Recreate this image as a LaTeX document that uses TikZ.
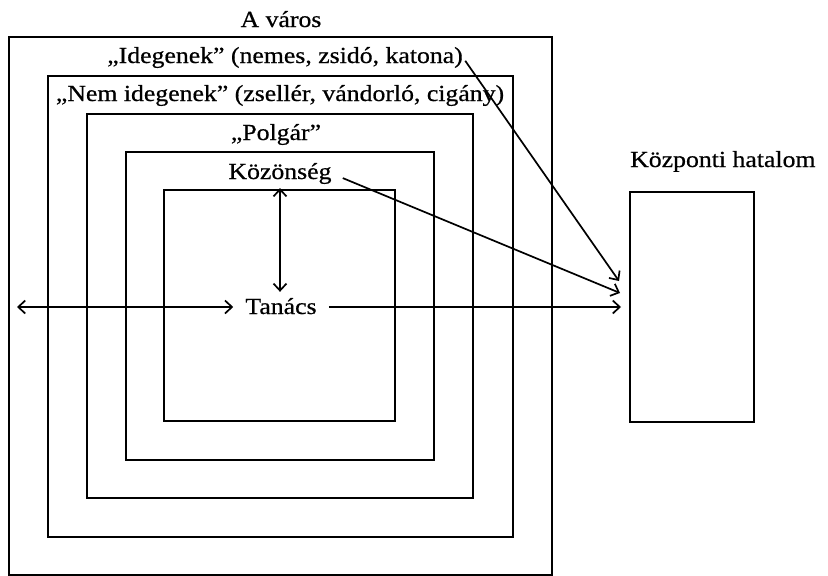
\documentclass[tikz,border=0pt]{standalone}
\usepackage{fontspec}
\setmainfont[FakeStretch=1.12,FakeBold=0.6]{Liberation Serif}
\usetikzlibrary{arrows.meta}
\begin{document}
\begin{tikzpicture}[x=1pt,y=-1pt,
  box/.style={draw=black,line width=1.9pt},
  lbl/.style={inner sep=0pt,anchor=base,font=\fontsize{23}{27}\selectfont},
  tip/.style={Straight Barb[length=7pt,width=13pt,line width=1.7pt]},
  conn/.style={line width=1.7pt,-{Straight Barb[length=7pt,width=13pt,line width=1.7pt]}},
  dconn/.style={line width=1.7pt,{Straight Barb[length=7pt,width=13pt,line width=1.7pt]}-{Straight Barb[length=7pt,width=13pt,line width=1.7pt]}}]
\useasboundingbox (0,0) rectangle (828,576);
\fill[white] (0,0) rectangle (828,576);

% nested circles of the town
\draw[box] (9,37) rectangle (552,575);
\draw[box] (48,76) rectangle (513,537);
\draw[box] (87,114) rectangle (473,498);
\draw[box] (126,152) rectangle (434,460);
\draw[box] (164,190) rectangle (395,421);

% central power
\draw[box] (630,192) rectangle (754,422);

% labels
\node[lbl] (varos)    at (281,27)  {A város};
\node[lbl] (idegen)   at (285,63)  {„Idegenek” (nemes, zsidó, katona)};
\node[lbl] (nemideg)  at (280,101) {„Nem idegenek” (zsellér, vándorló, cigány)};
\node[lbl] (polgar)   at (276,140) {„Polgár”};
\node[lbl] (kozonseg) at (280,179) {Közönség};
\node[lbl] (tanacs)   at (281,314) {Tanács};
\node[lbl,anchor=base west] (kozpont) at (630,167) {Központi hatalom};

% arrow ends
\coordinate (cityedge) at (17,307);
\coordinate (kpA) at (619,281);
\coordinate (kpB) at (620,293);
\coordinate (kpC) at (621,307);

% connectors
\draw[dconn,shorten <=4pt,shorten >=6pt] (kozonseg.south) -- (kozonseg.south |- tanacs.north);
\draw[dconn,shorten >=12pt] (cityedge) -- (cityedge -| tanacs.west);
\draw[conn,shorten <=12pt] (kpC -| tanacs.east) -- (kpC);
\draw[conn,shorten <=12pt] (kozonseg.east) -- (kpB);
\draw[conn,shorten <=4pt] (idegen.east) -- (kpA);
\end{tikzpicture}
\end{document}
